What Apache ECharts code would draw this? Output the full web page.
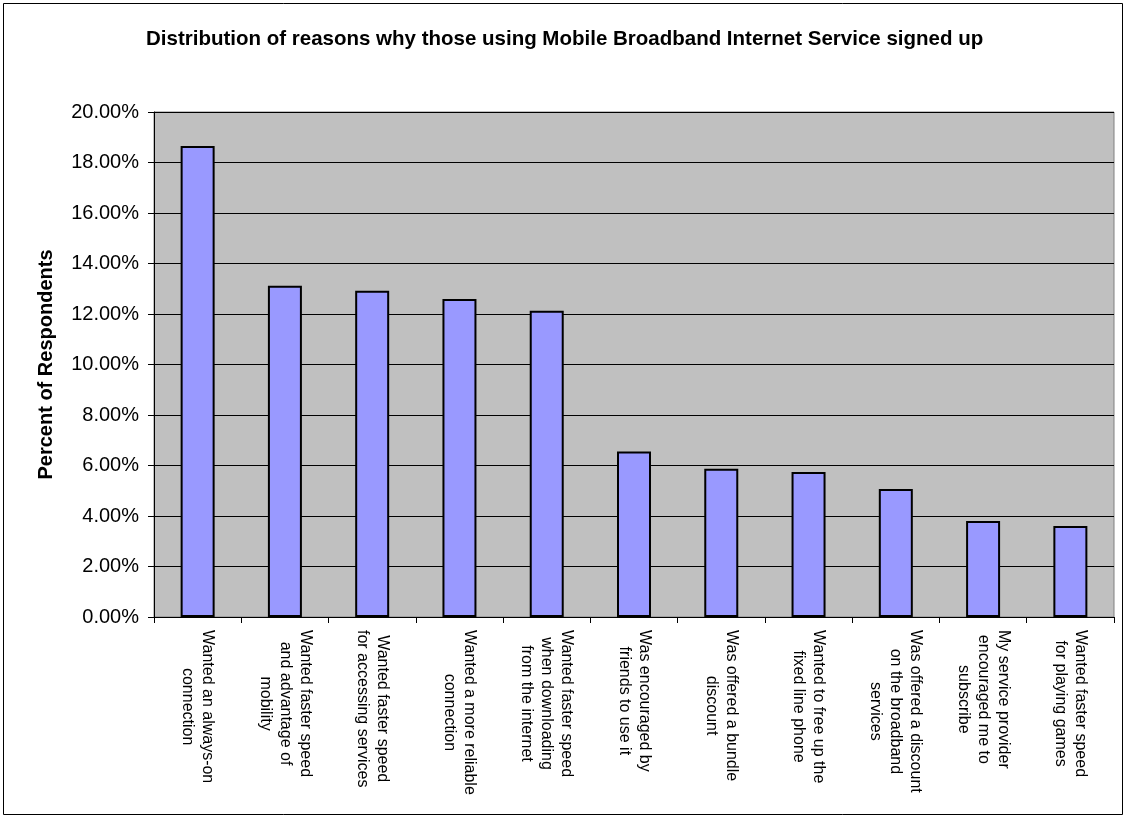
<!DOCTYPE html>
<html>
<head>
<meta charset="utf-8">
<script src="https://cdn.jsdelivr.net/npm/echarts@6/dist/echarts.min.js"></script>
<style>
html,body{margin:0;padding:0;background:#fff;}
#chart{width:1127px;height:819px;}
</style>
</head>
<body>
<div id="chart"></div>
<script>
const titleText = 'Distribution of reasons why those using Mobile Broadband Internet Service signed up';
const yAxisName = 'Percent of Respondents';
const categories = [
  'Wanted an always-on\nconnection',
  'Wanted faster speed\nand advantage of\nmobility',
  'Wanted faster speed\nfor accessing services',
  'Wanted a more reliable\nconnection',
  'Wanted faster speed\nwhen downloading\nfrom the internet',
  'Was encouraged by\nfriends to use it',
  'Was offered a bundle\ndiscount',
  'Wanted to free up the\nfixed line phone',
  'Was offered a discount\non the broadband\nservices',
  'My service provider\nencouraged me to\nsubscribe',
  'Wanted faster speed\nfor playing games'
];
const percentValues = [18.65, 13.12, 12.92, 12.59, 12.13, 6.55, 5.87, 5.74, 5.07, 3.80, 3.60];
const yMin = 0, yMax = 20, yStep = 2;

const FONT = 'Arial, "Liberation Sans", sans-serif';
const chart = echarts.init(document.getElementById('chart'), null, {renderer: 'canvas'});
chart.setOption({
  animation: false,
  backgroundColor: '#ffffff',
  title: {
    text: titleText,
    left: 146,
    top: 29,
    padding: 0,
    textStyle: {fontFamily: FONT, fontSize: 20.5, fontWeight: 'bold', color: '#000'}
  },
  graphic: [{
    type: 'rect',
    shape: {x: 3.5, y: 3.5, width: 1119, height: 811},
    style: {fill: 'none', stroke: '#000', lineWidth: 1},
    silent: true,
    z: -1
  }],
  grid: {
    left: 154, right: 13, top: 112, bottom: 202,
    show: true, backgroundColor: '#c0c0c0', borderColor: '#808080', borderWidth: 1,
    containLabel: false
  },
  xAxis: {
    type: 'category',
    data: categories,
    axisLine: {show: true, lineStyle: {color: '#000', width: 1}},
    axisTick: {show: true, length: 6, lineStyle: {color: '#000'}},
    axisLabel: {
      interval: 0,
      rotate: -90,
      margin: 13,
      align: 'left',
      verticalAlign: 'middle',
      fontFamily: FONT,
      fontSize: 16,
      lineHeight: 20,
      color: '#000',
      formatter: function (v) {
        return v.split('\n').map(function (l) { return '{c|' + l + '}'; }).join('\n');
      },
      rich: {
        c: {align: 'center', fontFamily: FONT, fontSize: 16, lineHeight: 20, color: '#000'}
      }
    }
  },
  yAxis: {
    type: 'value',
    min: yMin, max: yMax, interval: yStep,
    name: yAxisName,
    nameLocation: 'middle',
    nameRotate: 90,
    nameGap: 98,
    nameTextStyle: {fontFamily: FONT, fontSize: 20, fontWeight: 'bold', color: '#000'},
    axisLine: {show: true, lineStyle: {color: '#000', width: 1}},
    axisTick: {show: true, length: 6, lineStyle: {color: '#000'}},
    axisLabel: {
      margin: 15,
      fontFamily: FONT, fontSize: 20, color: '#000',
      formatter: function (v) { return v.toFixed(2) + '%'; }
    },
    splitLine: {show: true, lineStyle: {color: '#000', width: 1}}
  },
  series: [{
    type: 'bar',
    data: percentValues,
    barWidth: 34,
    itemStyle: {color: '#9999ff', borderColor: '#000', borderWidth: 2}
  }]
});
</script>
</body>
</html>
